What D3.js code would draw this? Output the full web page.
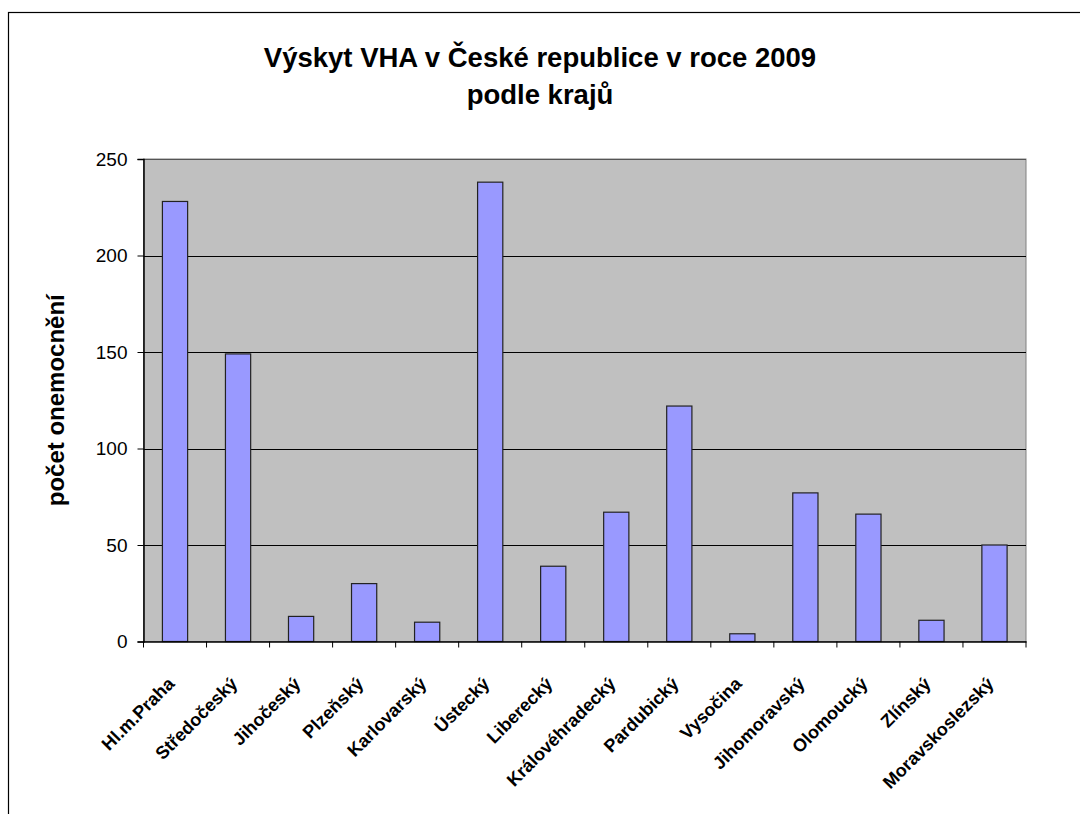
<!DOCTYPE html>
<html>
<head>
<meta charset="utf-8">
<script src="https://cdn.jsdelivr.net/npm/d3@7"></script>
<style>
  body { margin: 0; background: #fff; }
  text { font-family: "Liberation Sans", Arial, sans-serif; }
</style>
</head>
<body>
<div id="chart"></div>
<script>
var svgWidth = 1080;
var svgHeight = 814;

// data
var regions = ["Hl.m.Praha", "Středočeský", "Jihočeský", "Plzeňský", "Karlovarský",
  "Ústecký", "Liberecký", "Královéhradecký", "Pardubický", "Vysočina",
  "Jihomoravský", "Olomoucký", "Zlínský", "Moravskoslezský"];
var cases = [228, 149, 13, 30, 10, 238, 39, 67, 122, 4, 77, 66, 11, 50];
var yTicks = [0, 50, 100, 150, 200, 250];
var titleLines = ["Výskyt VHA v České republice v roce 2009", "podle krajů"];
var yLabel = "počet onemocnění";

var plot = { left: 143.5, right: 1026, top: 159, bottom: 641.5 };

var svg = d3.select("#chart")
  .append("svg")
  .attr("width", svgWidth)
  .attr("height", svgHeight);

// outer chart border (runs off the right and bottom of the picture)
svg.append("rect")
  .attr("x", 8.5)
  .attr("y", 12.5)
  .attr("width", 1200)
  .attr("height", 1000)
  .attr("fill", "#fff")
  .attr("stroke", "#000")
  .attr("stroke-width", 1.2);

// scales
var slotScale = d3.scaleBand()
  .domain(regions)
  .range([plot.left, plot.right])
  .padding(0);

var xScale = d3.scaleBand()
  .domain(regions)
  .range([plot.left, plot.right])
  .paddingInner(0.6)
  .paddingOuter(0.3);

var yScale = d3.scaleLinear()
  .domain([0, 250])
  .range([plot.bottom, plot.top]);

// plot area
svg.append("rect")
  .attr("x", plot.left)
  .attr("y", plot.top)
  .attr("width", plot.right - plot.left)
  .attr("height", plot.bottom - plot.top)
  .attr("fill", "#c0c0c0")
  .attr("stroke", "#808080")
  .attr("stroke-width", 1);

// gridlines
svg.append("g")
  .selectAll("line")
  .data(yTicks.filter(d => d > 0))
  .enter()
  .append("line")
  .attr("x1", plot.left)
  .attr("x2", plot.right)
  .attr("y1", d => Math.round(yScale(d)) + 0.5)
  .attr("y2", d => Math.round(yScale(d)) + 0.5)
  .attr("stroke", d => d === 250 ? "#555" : "#000")
  .attr("stroke-width", 1);

// bars
svg.append("g")
  .selectAll("rect")
  .data(cases)
  .enter()
  .append("rect")
  .attr("x", (d, i) => xScale(regions[i]))
  .attr("y", d => yScale(d))
  .attr("width", xScale.bandwidth())
  .attr("height", d => yScale(0) - yScale(d))
  .attr("fill", "#9999ff")
  .attr("stroke", "#222")
  .attr("stroke-width", 1.2);

// y axis
var leftAxis = d3.axisLeft(yScale)
  .tickValues(yTicks)
  .tickSize(6)
  .tickPadding(10);

var yAxis = svg.append("g")
  .attr("transform", `translate(${plot.left}, 0)`)
  .call(leftAxis);

yAxis.select(".domain").attr("stroke", "#000").attr("stroke-width", 1.5);
yAxis.selectAll(".tick line").attr("stroke", "#000");
yAxis.selectAll(".tick text")
  .attr("font-size", "19px")
  .attr("font-family", "Liberation Sans, Arial, sans-serif")
  .attr("fill", "#000");

// x axis: ticks at slot borders
var bottomAxis = d3.axisBottom(slotScale).tickSize(0).tickFormat("");
var xAxis = svg.append("g")
  .attr("transform", `translate(0, ${plot.bottom})`)
  .call(bottomAxis);
xAxis.select(".domain").attr("stroke", "#000").attr("stroke-width", 1.5);

var edges = regions.map(r => slotScale(r)).concat([plot.right]);
xAxis.selectAll(".edge")
  .data(edges)
  .enter()
  .append("line")
  .attr("class", "edge")
  .attr("x1", d => d)
  .attr("x2", d => d)
  .attr("y1", 0)
  .attr("y2", 6)
  .attr("stroke", "#000");

// rotated category labels
svg.append("g")
  .selectAll("text")
  .data(regions)
  .enter()
  .append("text")
  .attr("transform", d => `translate(${slotScale(d) + slotScale.bandwidth() / 2 - 4}, ${plot.bottom + 39}) rotate(-45)`)
  .attr("text-anchor", "end")
  .attr("dy", "0.35em")
  .attr("font-size", "18px")
  .attr("font-weight", "bold")
  .text(d => d);

// title
svg.append("g")
  .selectAll("text")
  .data(titleLines)
  .enter()
  .append("text")
  .attr("x", 540)
  .attr("y", (d, i) => 67 + i * 37)
  .attr("text-anchor", "middle")
  .attr("font-size", "27.5px")
  .attr("font-weight", "bold")
  .text(d => d);

// y axis title
svg.append("text")
  .attr("transform", `translate(64, ${(plot.top + plot.bottom) / 2}) rotate(-90)`)
  .attr("text-anchor", "middle")
  .attr("font-size", "24px")
  .attr("font-weight", "bold")
  .text(yLabel);
</script>
</body>
</html>
